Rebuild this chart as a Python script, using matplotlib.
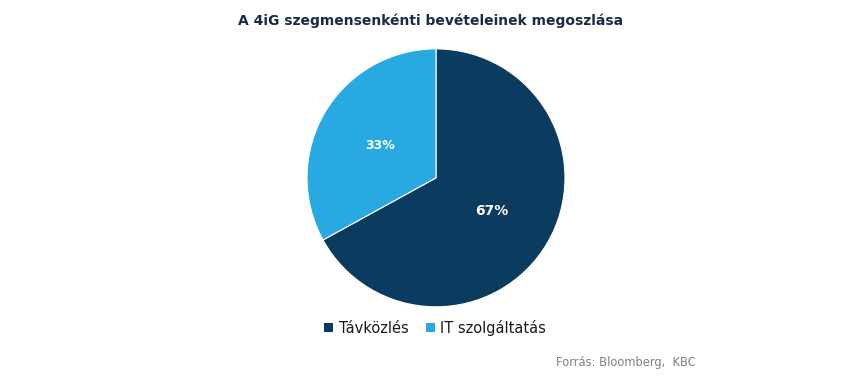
import matplotlib
matplotlib.use("Agg")
import matplotlib.pyplot as plt
from matplotlib.patches import Patch

categories = ["Távközlés", "IT szolgáltatás"]
values = [67, 33]
colors = ["#0b3b5f", "#29a9e1"]
title = "A 4iG szegmensenkénti bevételeinek megoszlása"
source = "Forrás: Bloomberg,  KBC"

plt.rcParams['font.family'] = ['DejaVu Sans']
fig = plt.figure(figsize=(8.5, 3.76), dpi=100)
ax = fig.add_axes([0.513 - 0.1518, 0.527 - 0.343, 0.3035, 0.686])
wedges, texts, autotexts = ax.pie(values, colors=colors, startangle=90, counterclock=False,
                                  autopct=lambda p: f"{p:.0f}%", pctdistance=0.5,
                                  wedgeprops=dict(linewidth=0.8, edgecolor="white"))
for t, fs in zip(autotexts, [10, 9]):
    t.set_color("white")
    t.set_fontsize(fs)
    t.set_fontweight("bold")
ax.set_aspect("equal")
ax.set_xlim(-1, 1)
ax.set_ylim(-1, 1)

fig.text(0.507, 0.945, title, ha="center", va="center", fontsize=10, fontweight="bold", color="#1b2a48")
handles = [Patch(facecolor=c, edgecolor="none") for c in colors]
fig.legend(handles, categories, loc="center", bbox_to_anchor=(0.512, 0.128), ncol=2, frameon=False,
           fontsize=10.5, handlelength=0.6, handleheight=0.6, handletextpad=0.4, columnspacing=1.2,
           labelcolor="#1a1a1a")
fig.text(0.654, 0.037, source, ha="left", va="center", fontsize=8.3, color="#808080")
fig.savefig("out.png", dpi=100)
